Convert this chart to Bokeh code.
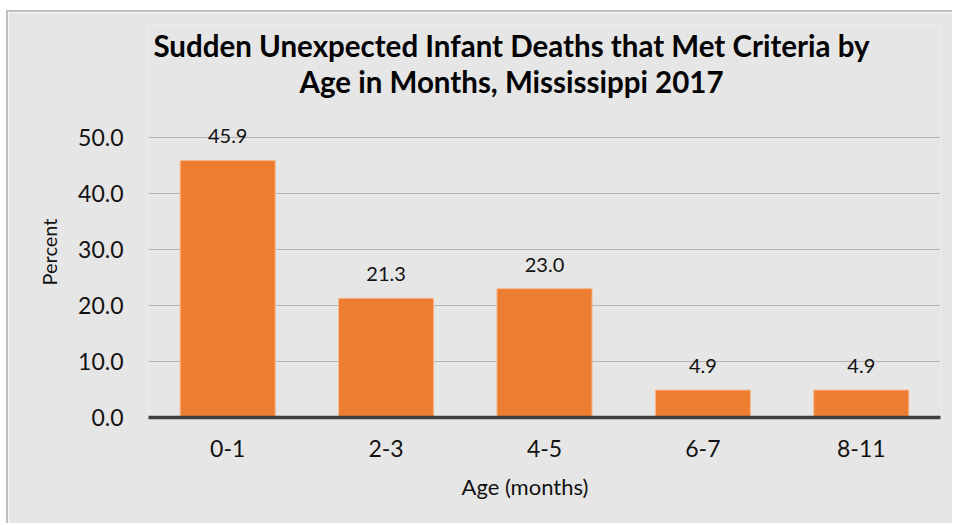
from bokeh.plotting import figure
from bokeh.models import (ColumnDataSource, LabelSet, Label, Title, FixedTicker,
                          PrintfTickFormatter)
from bokeh.core.properties import value
from bokeh.embed import file_html
from bokeh.resources import INLINE

# ---- data ----
categories = ["0-1", "2-3", "4-5", "6-7", "8-11"]
percent = [45.9, 21.3, 23.0, 4.9, 4.9]
y_ticks = [0, 10, 20, 30, 40, 50]
title_lines = ["Sudden Unexpected Infant Deaths that Met Criteria by",
               "Age in Months, Mississippi 2017"]
x_title = "Age (months)"
y_title = "Percent"

FONT = "Lato"
BG = "#e7e6e6"
INK = "#111111"

labels = ["%.1f" % v for v in percent]
src = ColumnDataSource(data=dict(cat=categories, val=percent, lab=labels))

p = figure(x_range=categories, y_range=(0, 70), width=946, height=513,
           output_backend="svg", toolbar_location=None, title=None,
           min_border_left=140, min_border_right=14, min_border_top=13,
           min_border_bottom=108)
p.styles = {"margin-left": "6px", "margin-top": "10px",
            "border-left": "2px solid #bfbfbf", "border-top": "2px solid #bfbfbf"}
p.x_range.range_padding = 0
p.background_fill_color = BG
p.border_fill_color = BG
p.outline_line_color = None

p.vbar(x="cat", top="val", width=0.6, source=src, fill_color="#ed7d31",
       line_color="#f6b88e", line_width=1)

p.add_layout(LabelSet(x="cat", y="val", text="lab", source=src,
                      y_offset=17, text_align="center", text_baseline="alphabetic",
                      text_font=value(FONT), text_font_size="20px",
                      text_color=INK))

# grid
p.xgrid.grid_line_color = None
p.ygrid.grid_line_color = "#b3b3b3"
p.ygrid.grid_line_width = 1
p.ygrid.ticker = FixedTicker(ticks=y_ticks)

# y axis
p.yaxis.ticker = FixedTicker(ticks=y_ticks)
p.yaxis.formatter = PrintfTickFormatter(format="%.1f")
p.yaxis.axis_line_color = None
p.yaxis.major_tick_line_color = None
p.yaxis.minor_tick_line_color = None
p.yaxis.major_tick_out = 0
p.yaxis.major_tick_in = 0
p.yaxis.major_label_standoff = 25
p.yaxis.major_label_text_font = FONT
p.yaxis.major_label_text_font_size = "23px"
p.yaxis.major_label_text_color = INK

# x axis
p.xaxis.axis_line_color = "#404040"
p.xaxis.axis_line_width = 3.5
p.xaxis.major_tick_line_color = None
p.xaxis.major_tick_out = 0
p.xaxis.major_tick_in = 0
p.xaxis.major_label_standoff = 22
p.xaxis.major_label_text_font = FONT
p.xaxis.major_label_text_font_size = "23px"
p.xaxis.major_label_text_color = INK

# axis titles as side titles (so they can be offset like the original)
p.add_layout(Title(text=y_title, align="left", offset=132, standoff=29,
                   text_font=FONT, text_font_size="20px",
                   text_font_style="normal", text_color=INK), "left")
p.add_layout(Title(text=x_title, align="left", offset=313, standoff=22,
                   text_font=FONT, text_font_size="22px",
                   text_font_style="normal", text_color=INK), "below")

# chart title (two lines, positioned relative to the frame)
for line, yy in zip(title_lines, [372, 336]):
    p.add_layout(Label(x=363, y=yy, x_units="screen", y_units="screen",
                       text=line, text_align="center", text_baseline="alphabetic",
                       text_font=FONT, text_font_size="29.5px",
                       text_font_style="bold", text_color="#000000"))

open("out.html", "w").write(file_html(p, INLINE))
